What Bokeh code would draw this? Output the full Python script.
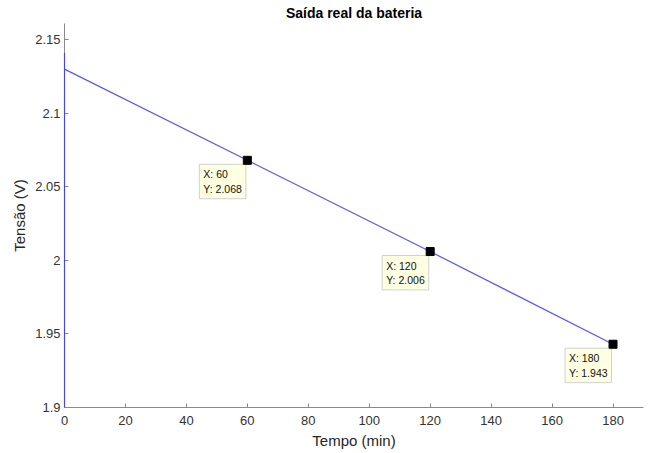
from bokeh.plotting import figure
from bokeh.models import Range1d, FixedTicker, CustomJSTickFormatter, Label
from bokeh.embed import file_html
from bokeh.resources import INLINE

TITLE = "Saída real da bateria"
X_LABEL = "Tempo (min)"
Y_LABEL = "Tensão (V)"

# measured curve (the trace starts with a jump at t = 0)
time_min = [0, 0, 0, 60, 120, 180]
voltage = [1.90, 2.141, 2.130, 2.068, 2.006, 1.943]

# data tips
tip_x = [60, 120, 180]
tip_y = [2.068, 2.006, 1.943]

x_ticks = [0, 20, 40, 60, 80, 100, 120, 140, 160, 180]
y_ticks = [1.9, 1.95, 2.0, 2.05, 2.1, 2.15]

p = figure(width=648, height=453, output_backend="svg", toolbar_location=None,
           x_range=Range1d(0, 190), y_range=Range1d(1.9, 2.161),
           min_border_left=64, min_border_right=5, min_border_top=22, min_border_bottom=46,
           background_fill_color="white", border_fill_color="white")
p.outline_line_color = None
p.grid.visible = False

p.title.text = TITLE
p.title.align = "center"
p.title.text_font = "Liberation Sans"
p.title.text_font_size = "14px"
p.title.text_font_style = "bold"
p.title.text_color = "#000000"
p.title.standoff = 5

for ax, ticks in ((p.xaxis[0], x_ticks), (p.yaxis[0], y_ticks)):
    ax.ticker = FixedTicker(ticks=ticks)
    ax.formatter = CustomJSTickFormatter(code="return String(Math.round(tick*1000)/1000);")
    ax.major_tick_in = 4
    ax.major_tick_out = 0
    ax.minor_tick_line_color = None
    ax.axis_line_color = "#8a8a8a"
    ax.major_tick_line_color = "#8a8a8a"
    ax.major_label_text_font = "Liberation Sans"
    ax.major_label_text_font_size = "13px"
    ax.major_label_text_color = "#333333"
    ax.axis_label_text_font = "Liberation Sans"
    ax.axis_label_text_font_size = "15px"
    ax.axis_label_text_font_style = "normal"
    ax.axis_label_text_color = "#262626"

p.xaxis.axis_label = X_LABEL
p.yaxis.axis_label = Y_LABEL
p.xaxis.major_label_standoff = 8
p.xaxis.axis_label_standoff = 4
p.yaxis.major_label_standoff = 4
p.yaxis.axis_label_standoff = 4

p.line(time_min, voltage, line_color="#3838ff", line_width=1.2, line_alpha=0.85,
       level="overlay")
p.scatter(tip_x, tip_y, marker="square", size=8, fill_color="black", line_color="black",
          level="overlay")

for tx, ty in zip(tip_x, tip_y):
    p.add_layout(Label(x=tx, y=ty, x_offset=-48, y_offset=-4,
                       text=f"X: {tx}\nY: {ty:.3f}",
                       text_font="Liberation Sans",
                       text_font_size="10.5px", text_color="#111111",
                       text_align="left", text_baseline="top",
                       background_fill_color="#ffffe1",
                       border_line_color="#d0d0d0", border_line_width=1,
                       padding=4))

open("out.html", "w").write(file_html(p, INLINE))
